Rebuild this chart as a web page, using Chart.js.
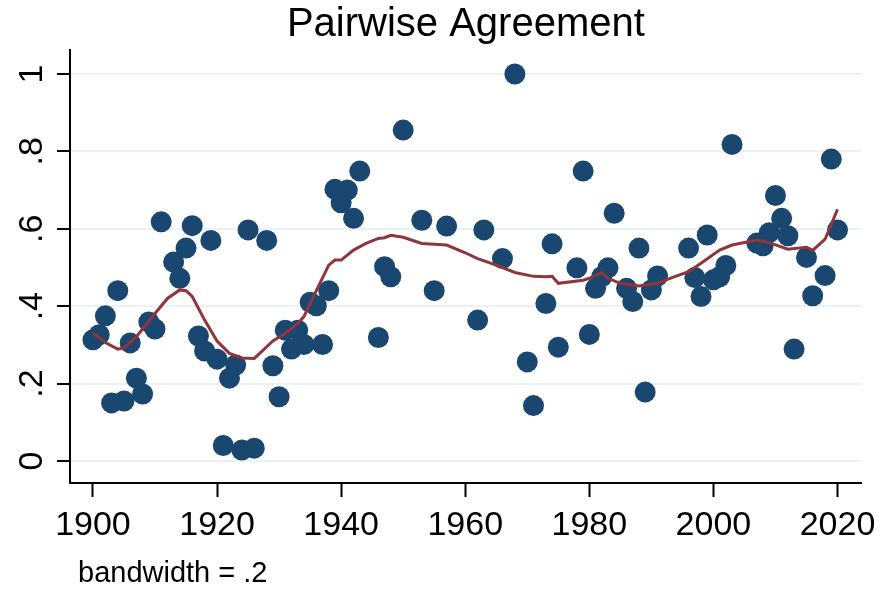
<!DOCTYPE html>
<html>
<head>
<meta charset="utf-8">
<title>Pairwise Agreement</title>
<script src="https://cdn.jsdelivr.net/npm/chart.js@4.4.1/dist/chart.umd.min.js"></script>
<style>
  html, body { margin: 0; padding: 0; background: #fff; }
  #wrap { width: 884px; height: 590px; position: relative; }
</style>
</head>
<body>
<div id="wrap"><canvas id="chart"></canvas></div>
<script>
// Observed agreement per year
const years = [
  1900, 1901, 1902, 1903, 1904, 1905, 1906, 1907, 1908, 1909, 1910, 1911,
  1913, 1914, 1915, 1916, 1917, 1918, 1919, 1920, 1921, 1922, 1923, 1924,
  1925, 1926, 1928, 1929, 1930, 1931, 1932, 1933, 1934, 1935, 1936, 1937,
  1938, 1939, 1940, 1941, 1942, 1943, 1946, 1947, 1948, 1950, 1953, 1955,
  1957, 1962, 1963, 1966, 1968, 1970, 1971, 1973, 1974, 1975, 1978, 1979,
  1980, 1981, 1982, 1983, 1984, 1986, 1987, 1988, 1989, 1990, 1991, 1996,
  1997, 1998, 1999, 2000, 2001, 2002, 2003, 2007, 2008, 2009, 2010, 2011,
  2012, 2013, 2015, 2016, 2018, 2019, 2020
];
const agreement = [
  0.313, 0.326, 0.375, 0.150, 0.440, 0.155, 0.305, 0.214, 0.173, 0.359, 0.341, 0.618,
  0.514, 0.472, 0.550, 0.608, 0.323, 0.284, 0.570, 0.263, 0.040, 0.214, 0.248, 0.028,
  0.597, 0.033, 0.570, 0.246, 0.166, 0.338, 0.289, 0.338, 0.301, 0.410, 0.401, 0.301,
  0.440, 0.702, 0.667, 0.700, 0.627, 0.749, 0.319, 0.502, 0.476, 0.855, 0.622, 0.440,
  0.607, 0.364, 0.597, 0.523, 1.000, 0.256, 0.143, 0.407, 0.561, 0.294, 0.499, 0.749,
  0.327, 0.446, 0.476, 0.499, 0.640, 0.446, 0.412, 0.550, 0.178, 0.442, 0.478, 0.550,
  0.474, 0.425, 0.584, 0.468, 0.476, 0.505, 0.818, 0.563, 0.556, 0.590, 0.686, 0.627,
  0.582, 0.289, 0.526, 0.427, 0.479, 0.780, 0.597
];

// Lowess smooth (bandwidth .2)
const lowessYears = [
  1900, 1902, 1904, 1905, 1907, 1910, 1912, 1914, 1915, 1916, 1918, 1920,
  1922, 1924, 1926, 1927, 1929, 1931, 1933, 1934, 1936, 1938, 1939, 1940,
  1942, 1944, 1946, 1947, 1948, 1950, 1953, 1957, 1960, 1962, 1965, 1968,
  1971, 1973, 1974, 1975, 1979, 1980, 1982, 1983, 1985, 1988, 1991, 1993,
  1996, 1998, 2001, 2003, 2007, 2009, 2012, 2015, 2016, 2018, 2020
];
const lowessValues = [
  0.331, 0.306, 0.289, 0.292, 0.321, 0.381, 0.420, 0.442, 0.440, 0.425, 0.364, 0.310,
  0.278, 0.266, 0.265, 0.280, 0.310, 0.330, 0.355, 0.373, 0.440, 0.506, 0.519, 0.519,
  0.545, 0.562, 0.575, 0.577, 0.583, 0.578, 0.562, 0.558, 0.538, 0.523, 0.506, 0.487,
  0.477, 0.476, 0.477, 0.459, 0.467, 0.472, 0.487, 0.472, 0.459, 0.452, 0.459, 0.472,
  0.489, 0.511, 0.545, 0.558, 0.571, 0.564, 0.547, 0.552, 0.544, 0.573, 0.650
];

const xTicks = [1900, 1920, 1940, 1960, 1980, 2000, 2020];
const yTicks = [0, 0.2, 0.4, 0.6, 0.8, 1];
const yTickLabels = ['0', '.2', '.4', '.6', '.8', '1'];

const FONT = '"Liberation Sans", Arial, Helvetica, sans-serif';

// Title, rotated y labels and the note, drawn Stata-style
const stataText = {
  id: 'stataText',
  afterDraw(chart) {
    const ctx = chart.ctx;
    const area = chart.chartArea;
    const yScale = chart.scales.y;
    ctx.save();
    ctx.fillStyle = '#000';

    ctx.font = '40px ' + FONT;
    ctx.textAlign = 'center';
    ctx.textBaseline = 'alphabetic';
    ctx.fillText('Pairwise Agreement', (area.left + area.right) / 2, 36);

    ctx.font = '34px ' + FONT;
    yTicks.forEach((v, i) => {
      const y = yScale.getPixelForValue(v);
      ctx.save();
      ctx.translate(42, y);
      ctx.rotate(-Math.PI / 2);
      ctx.textAlign = 'center';
      ctx.fillText(yTickLabels[i], 0, 0);
      ctx.restore();
    });

    ctx.font = '29px ' + FONT;
    ctx.textAlign = 'left';
    ctx.fillText('bandwidth = .2', 78, 582);
    ctx.restore();
  }
};

function initializeChart() {
  const ctx = document.getElementById('chart').getContext('2d');

  new Chart(ctx, {
    data: {
      datasets: [
        {
          type: 'line',
          label: 'lowess',
          data: lowessYears.map((yr, i) => ({ x: yr, y: lowessValues[i] })),
          borderColor: '#90353b',
          borderWidth: 3,
          pointRadius: 0,
          tension: 0,
          fill: false,
          order: 0
        },
        {
          type: 'scatter',
          label: 'agreement',
          data: years.map((yr, i) => ({ x: yr, y: agreement[i] })),
          backgroundColor: '#1a476f',
          borderColor: '#1a476f',
          borderWidth: 0,
          pointRadius: 10.5,
          order: 1
        }
      ]
    },
    options: {
      responsive: true,
      maintainAspectRatio: false,
      animation: false,
      layout: {
        padding: { top: 50, right: 22, left: 0, bottom: 0 }
      },
      plugins: {
        legend: { display: false },
        title: { display: false },
        tooltip: { enabled: false }
      },
      scales: {
        x: {
          type: 'linear',
          min: 1896.3,
          max: 2023.9,
          afterBuildTicks: scale => {
            scale.ticks = xTicks.map(v => ({ value: v }));
          },
          afterFit: scale => {
            scale.height = 107;
          },
          grid: {
            drawOnChartArea: false,
            drawTicks: true,
            tickLength: 14,
            tickColor: '#000',
            tickWidth: 2
          },
          border: { color: '#000', width: 2 },
          ticks: {
            color: '#000',
            padding: 8,
            maxRotation: 0,
            font: { family: FONT, size: 34 },
            callback: v => String(v)
          }
        },
        y: {
          type: 'linear',
          min: -0.057,
          max: 1.062,
          afterBuildTicks: scale => {
            scale.ticks = yTicks.map(v => ({ value: v }));
          },
          afterFit: scale => {
            scale.width = 70;
          },
          grid: {
            color: '#eaf2f3',
            lineWidth: 2,
            drawTicks: true,
            tickLength: 13,
            tickColor: '#000',
            tickWidth: 2
          },
          border: { color: '#000', width: 2 },
          ticks: { display: false }
        }
      }
    },
    plugins: [stataText]
  });
}

initializeChart();
</script>
</body>
</html>
